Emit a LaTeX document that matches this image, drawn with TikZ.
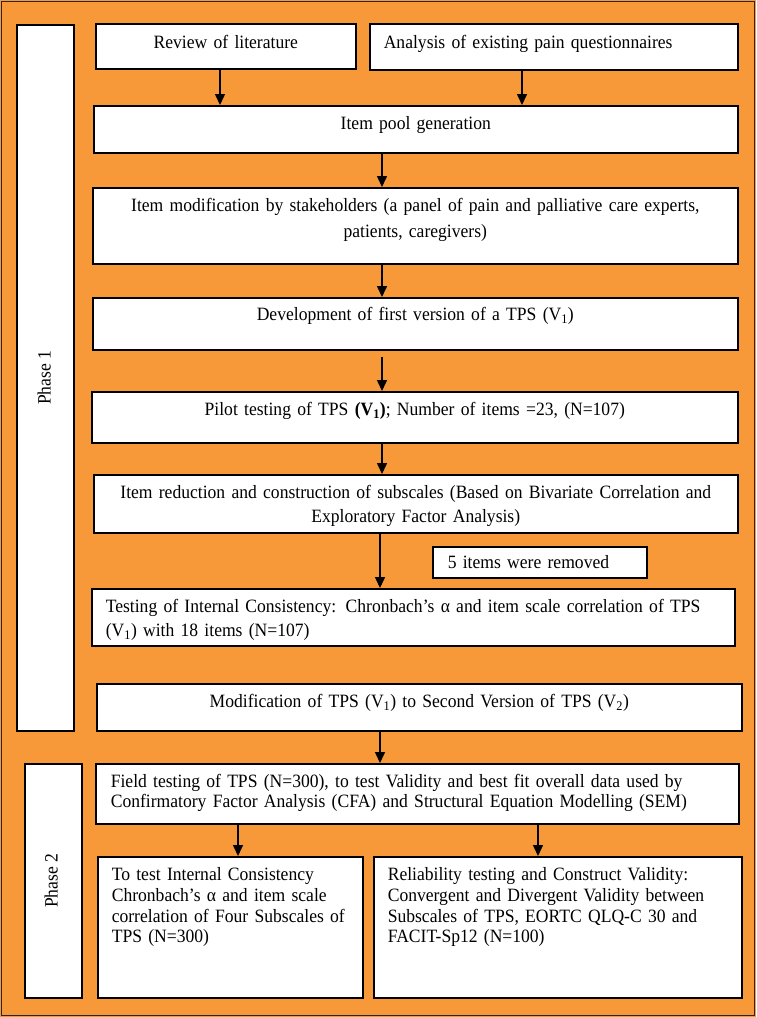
\documentclass[tikz,border=0pt]{standalone}
\usepackage{fontspec}
\setmainfont{Liberation Serif}[FakeStretch=0.935]
\usetikzlibrary{arrows.meta}
\definecolor{bgorange}{RGB}{247,152,57}
\newcommand{\fsz}[1]{\fontsize{18.8}{#1}\selectfont}
\begin{document}
\begin{tikzpicture}[x=1pt,y=-1pt,
  box/.style={draw=black, line width=1.6pt, fill=white, anchor=north west, inner ysep=0pt, font=\fsz{21}},
  cbox/.style={box, inner xsep=0pt, align=center},
  lbox/.style={box, align=left},
  phasebox/.style={draw=black, line width=1.6pt, fill=white, anchor=north west, inner sep=0pt},
  phaselabel/.style={rotate=90, font=\fsz{21}},
  arr/.style={-{Triangle[width=10pt,length=11pt]}, line width=1.5pt},
]
\useasboundingbox (0,0) rectangle (756,1017);
\fill[bgorange] (0,0) rectangle (756,1017);
\draw[line width=1.5pt, black!85] (1.5,1.5) rectangle (754.5,1015.5);

% phase boxes
\node[phasebox, minimum width=57pt, minimum height=706pt] (ph1) at (16,24) {};
\node[phaselabel] (ph1t) at ([xshift=-1pt]ph1.center) {Phase 1};
\node[phasebox, minimum width=57pt, minimum height=234pt] (ph2) at (24,763) {};
\node[phaselabel] (ph2t) at ([xshift=-2pt]ph2.center) {Phase 2};

% boxes
\node[cbox, text width=260pt, text height=25pt, text depth=20pt] (review) at (95,23) {Review of literature};
\node[lbox, inner xsep=14pt, text width=340pt, text height=25pt, text depth=21pt] (analysis) at (369,23) {Analysis of existing pain questionnaires};
\node[cbox, text width=644pt, text height=24pt, text depth=23pt] (pool) at (93,105) {Item pool generation};
\node[cbox, text width=645pt, text height=24pt, text depth=52pt, font=\fsz{26}] (modif) at (92,187) {Item modification by stakeholders (a panel of pain and palliative care experts,\\ patients, caregivers)};
\node[cbox, text width=645pt, text height=23pt, text depth=29pt] (devel) at (92,297) {Development of first version of a TPS (V\textsubscript{1})};
\node[cbox, text width=646pt, text height=24pt, text depth=27pt] (pilot) at (91,391) {Pilot testing of TPS \textbf{(V\textsubscript{1})}; Number of items =23, (N=107)};
\node[cbox, text width=644pt, text height=24pt, text depth=34pt, font=\fsz{24}] (reduc) at (93,474) {Item reduction and construction of subscales (Based on Bivariate Correlation and\\ Exploratory Factor Analysis)};
\node[lbox, inner xsep=14pt, text width=615pt, text height=24pt, text depth=33pt, font=\fsz{23.5}] (testing) at (91,588) {Testing of Internal Consistency: Chronbach’s α and item scale correlation of TPS\\ (V\textsubscript{1}) with 18 items (N=107)};
\node[lbox, inner xsep=15pt, text width=184pt, text height=22pt, text depth=9pt] (five) at (432,546) {5 items were removed};
\node[cbox, text width=645pt, text height=24pt, text depth=23pt] (modif2) at (96,683) {Modification of TPS (V\textsubscript{1}) to Second Version of TPS (V\textsubscript{2})};
\node[lbox, inner xsep=15pt, text width=613pt, text height=24pt, text depth=36pt, font=\fsz{20}] (field) at (95,763) {Field testing of TPS (N=300), to test Validity and best fit overall data used by\\ Confirmatory Factor Analysis (CFA) and Structural Equation Modelling (SEM)};
\node[lbox, inner xsep=14pt, text width=237pt, text height=24pt, text depth=117pt, font=\fsz{20.7}] (bl) at (97,856) {To test Internal Consistency\\ Chronbach’s α and item scale\\ correlation of Four Subscales of\\ TPS (N=300)};
\node[lbox, inner xsep=14pt, text width=340pt, text height=24pt, text depth=117pt, font=\fsz{20.7}] (br) at (373,856) {Reliability testing and Construct Validity:\\ Convergent and Divergent Validity between\\ Subscales of TPS, EORTC QLQ-C 30 and\\ FACIT-Sp12 (N=100)};

% arrow columns
\coordinate (x220) at (220,0);
\coordinate (x522) at (522,0);
\coordinate (x382) at (382,0);
\coordinate (x380) at (380,0);
\coordinate (x238) at (238,0);
\coordinate (x538) at (538,0);

\draw[arr] (review.south -| x220) -- (pool.north -| x220);
\draw[arr] (analysis.south -| x522) -- (pool.north -| x522);
\draw[arr] (pool.south -| x382) -- (modif.north -| x382);
\draw[arr] (modif.south -| x382) -- (devel.north -| x382);
\draw[arr, shorten <=6pt] (devel.south -| x382) -- (pilot.north -| x382);
\draw[arr] (pilot.south -| x382) -- (reduc.north -| x382);
\draw[arr] (reduc.south -| x380) -- (testing.north -| x380);
\draw[arr] (modif2.south -| x380) -- (field.north -| x380);
\draw[arr] (field.south -| x238) -- (bl.north -| x238);
\draw[arr] (field.south -| x538) -- (br.north -| x538);
\end{tikzpicture}
\end{document}
